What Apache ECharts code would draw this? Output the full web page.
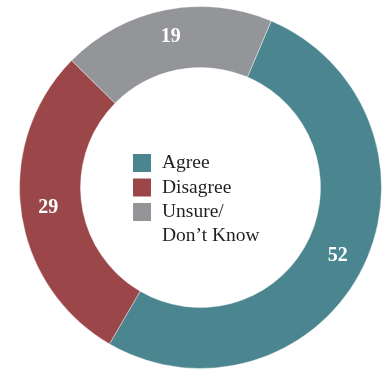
<!DOCTYPE html>
<html>
<head>
<meta charset="utf-8">
<script src="https://cdn.jsdelivr.net/npm/echarts@6/dist/echarts.min.js"></script>
<style>
  html, body { margin: 0; padding: 0; background: #ffffff; }
  #chart { width: 389px; height: 370px; }
</style>
</head>
<body>
<div id="chart"></div>
<script>
// Survey response shares (percent)
const categories = ['Agree', 'Disagree', 'Unsure/\nDon\u2019t Know'];
const values = [52, 29, 19];
const colors = ['#4b8690', '#9b4648', '#949599'];

const serif = '"Liberation Serif", "DejaVu Serif", serif';

const chart = echarts.init(document.getElementById('chart'), null, { renderer: 'canvas' });

const pieData = categories.map((name, i) => ({
  name: name,
  value: values[i],
  itemStyle: { color: colors[i] }
}));

const legendBase = {
  orient: 'vertical',
  left: 131,
  padding: 0,
  icon: 'rect',
  itemWidth: 20,
  itemHeight: 20,
  itemGap: 0.5,
  selectedMode: false,
  textStyle: {
    fontFamily: serif,
    fontSize: 19.5,
    color: '#231f20',
    lineHeight: 24,
    padding: [0, 0, 0, 5]
  }
};

chart.setOption({
  backgroundColor: '#ffffff',
  animation: false,
  legend: [
    Object.assign({}, legendBase, {
      // first two entries
      data: categories.slice(0, 2),
      top: 151
    }),
    Object.assign({}, legendBase, {
      // two-line entry: a blank leading line keeps "Unsure/" level with its swatch
      data: categories.slice(2),
      top: 176,
      formatter: name => '\n' + name
    })
  ],
  series: [{
    type: 'pie',
    center: [200.5, 187.5],
    radius: [120, 181],
    startAngle: 67,
    clockwise: true,
    silent: true,
    label: {
      show: true,
      position: 'inside',
      formatter: '{c}',
      fontFamily: serif,
      fontWeight: 'bold',
      fontSize: 20,
      color: '#ffffff'
    },
    labelLine: { show: false },
    itemStyle: { borderColor: '#ffffff', borderWidth: 0.4 },
    data: pieData
  }]
});
</script>
</body>
</html>
